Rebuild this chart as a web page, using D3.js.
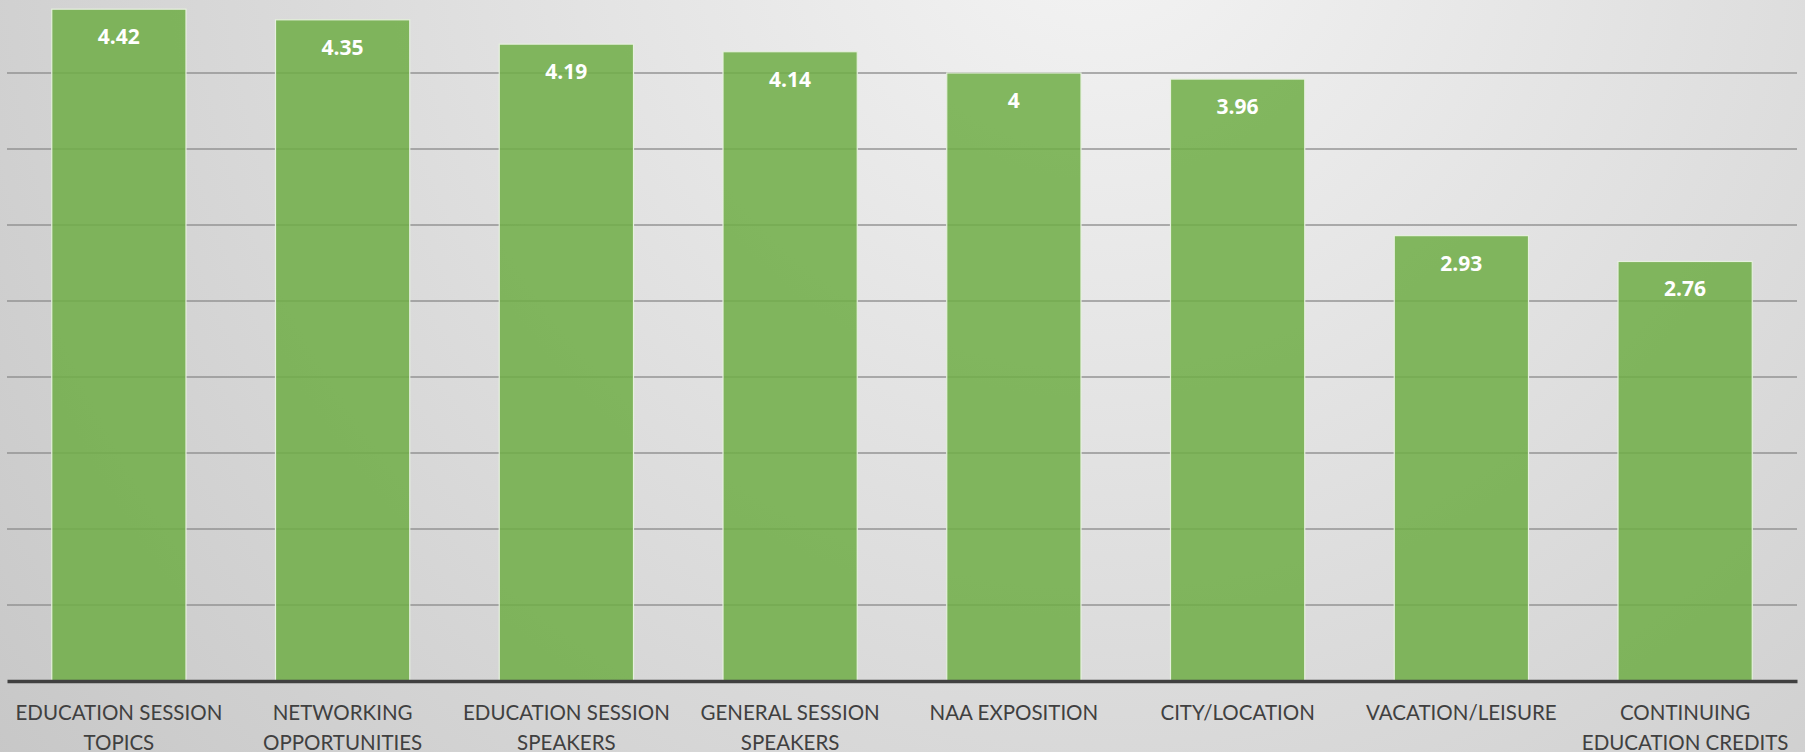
<!DOCTYPE html>
<html>
<head>
<meta charset="utf-8">
<script src="https://cdn.jsdelivr.net/npm/d3@7"></script>
<style>
  body { margin: 0; background: #d6d6d6; }
  svg { display: block; }
</style>
</head>
<body>
<div id="chart"></div>
<script>
// data
const categories = [
  "EDUCATION SESSION\nTOPICS",
  "NETWORKING\nOPPORTUNITIES",
  "EDUCATION SESSION\nSPEAKERS",
  "GENERAL SESSION\nSPEAKERS",
  "NAA EXPOSITION",
  "CITY/LOCATION",
  "VACATION/LEISURE",
  "CONTINUING\nEDUCATION CREDITS"
]
const ratings = [4.42, 4.35, 4.19, 4.14, 4, 3.96, 2.93, 2.76]
const gridTicks = [0.5, 1, 1.5, 2, 2.5, 3, 3.5, 4]

const W = 1805
const H = 752
const PLOT = { LEFT: 7, RIGHT: 1797, TOP: -3, BOTTOM: 681 }

const data = categories.map((c, i) => ({ cat: c, value: ratings[i] }))

const svg = d3.select("#chart").append("svg")
  .attr("width", W)
  .attr("height", H)

// background
const defs = svg.append("defs")
const grad = defs.append("radialGradient")
  .attr("id", "bg")
  .attr("gradientUnits", "userSpaceOnUse")
  .attr("cx", 1100).attr("cy", -100).attr("r", 1500)
grad.append("stop").attr("offset", "0%").attr("stop-color", "#f4f4f4")
grad.append("stop").attr("offset", "100%").attr("stop-color", "#c4c4c4")

svg.append("rect")
  .attr("width", W)
  .attr("height", H)
  .attr("fill", "url(#bg)")

// scales
const x = d3.scaleBand()
  .domain(categories)
  .range([PLOT.LEFT, PLOT.RIGHT])
  .paddingInner(0.4)
  .paddingOuter(0.2)

const y = d3.scaleLinear()
  .domain([0, 4.5])
  .range([PLOT.BOTTOM, PLOT.TOP])

// gridlines
svg.append("g")
  .attr("class", "grid")
  .selectAll("line")
  .data(gridTicks)
  .join("line")
    .attr("x1", PLOT.LEFT)
    .attr("x2", PLOT.RIGHT)
    .attr("y1", d => y(d))
    .attr("y2", d => y(d))
    .attr("stroke", "#8f8f8f")
    .attr("stroke-opacity", 0.7)
    .attr("stroke-width", 2)

// bars
svg.append("g")
  .selectAll("rect")
  .data(data)
  .join("rect")
    .attr("x", d => x(d.cat))
    .attr("y", d => y(d.value))
    .attr("width", x.bandwidth())
    .attr("height", d => y(0) - y(d.value))
    .attr("fill", "#70ad47")
    .attr("fill-opacity", 0.86)
    .attr("stroke", "#e6f0de")
    .attr("stroke-width", 1.2)

// value labels
svg.append("g")
  .selectAll("text")
  .data(data)
  .join("text")
    .attr("x", d => x(d.cat) + x.bandwidth() / 2)
    .attr("y", d => y(d.value) + 35)
    .attr("text-anchor", "middle")
    .attr("font-family", "'Open Sans', sans-serif")
    .attr("font-weight", "bold")
    .attr("font-size", "21px")
    .attr("fill", "#ffffff")
    .text(d => d.value)

// x axis
const xAxis = svg.append("g")
  .attr("transform", `translate(0, ${PLOT.BOTTOM})`)
  .call(d3.axisBottom(x).tickSize(0).tickSizeOuter(0).tickFormat(""))
xAxis.select(".domain")
  .attr("stroke", "#404040")
  .attr("stroke-width", 3.5)

xAxis.selectAll(".tick text").remove()
xAxis.selectAll(".tick").each(function(d) {
  const t = d3.select(this).append("text")
    .attr("y", 39)
    .attr("text-anchor", "middle")
    .attr("font-family", "Lato, sans-serif")
    .attr("font-size", "20.5px")
    .attr("fill", "#404040")
  d.split("\n").forEach((line, i) => {
    t.append("tspan")
      .attr("x", 0)
      .attr("dy", i === 0 ? 0 : 30)
      .text(line)
  })
})
</script>
</body>
</html>
